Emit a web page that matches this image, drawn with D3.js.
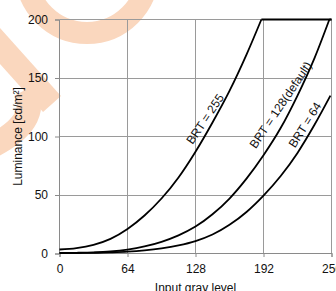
<!DOCTYPE html>
<html>
<head>
<meta charset="utf-8">
<script src="https://cdn.jsdelivr.net/npm/d3@7"></script>
<style>
  html, body { margin: 0; padding: 0; background: #fff; }
  svg { display: block; }
  text { font-family: "Liberation Sans", Arial, sans-serif; }
</style>
</head>
<body>
<svg id="chart" width="336" height="291"></svg>
<script>
// ---- data ----
const xTicks = [0, 64, 128, 192, 256];
const yTicks = [0, 50, 100, 150, 200];
const xTickLabels = ["0", "64", "128", "192", "256"];
const yTickLabels = ["0", "50", "100", "150", "200"];
const xTitle = "Input gray level";
const yTitle = "Luminance [cd/m²]";

const seriesNames = ["BRT = 255", "BRT = 128(default)", "BRT = 64"];

const brt255X = [0, 16, 32, 48, 64, 80, 96, 112, 128, 144, 160, 176, 190, 256];
const brt255Y = [3.4, 4.6, 7.4, 12.5, 21, 32.5, 47, 65, 87, 112, 139, 170, 200, 200];

const brt128X = [0, 16, 32, 48, 64, 80, 96, 112, 128, 144, 160, 176, 192, 208, 224, 240, 254, 256];
const brt128Y = [0.5, 0.6, 0.9, 1.7, 3.3, 6, 10, 15.5, 23, 33.5, 47, 64, 84, 107, 135, 167, 200, 200];

const brt64X = [0, 16, 32, 48, 64, 80, 96, 112, 128, 144, 160, 176, 192, 208, 224, 240, 255];
const brt64Y = [0.3, 0.4, 0.6, 1, 1.6, 2.7, 4.4, 6.9, 10.6, 16.2, 24.5, 35.5, 49.5, 66, 86, 110, 135];

// label anchor points (data coordinates) and angle
const labelX = [137, 208, 231];
const labelY = [115, 127, 110];
const labelAngle = [-56, -56, -58];

// ---- layout ----
const svg = d3.select("#chart");
const x = d3.scaleLinear().domain([0, 256]).range([59.5, 331.5]);
const y = d3.scaleLinear().domain([0, 200]).range([253.5, 19.5]);
const crisp = v => Math.round(v - 0.5) + 0.5;

// ---- watermark (background) ----
const wm = svg.append("g").attr("fill", "none").attr("stroke", "#FAD7BE");
wm.append("circle").attr("cx", 87).attr("cy", -28).attr("r", 61).attr("stroke-width", 22);
wm.append("path").attr("d", "M -25,18 L 52,104").attr("stroke-width", 24);
wm.append("path").attr("d", "M 25,90 Q 42,122 -12,148").attr("stroke-width", 24);

// ---- grid ----
const grid = svg.append("g").attr("stroke", "#9a9a9a").attr("stroke-width", 1);
grid.selectAll("line.v").data(xTicks).join("line")
  .attr("x1", d => crisp(x(d))).attr("x2", d => crisp(x(d)))
  .attr("y1", crisp(y(200))).attr("y2", crisp(y(0)));
grid.selectAll("line.h").data(yTicks).join("line")
  .attr("y1", d => crisp(y(d))).attr("y2", d => crisp(y(d)))
  .attr("x1", crisp(x(0))).attr("x2", crisp(x(256)));

// ---- axes ----
const xAxis = d3.axisBottom(x).tickValues(xTicks)
  .tickFormat((d, i) => xTickLabels[i]).tickSize(4).tickPadding(7);
const yAxis = d3.axisLeft(y).tickValues(yTicks)
  .tickFormat((d, i) => yTickLabels[i]).tickSize(4).tickPadding(7);

const gx = svg.append("g").attr("transform", `translate(0,${crisp(y(0)) - 0.5})`).call(xAxis);
const gy = svg.append("g").attr("transform", `translate(${crisp(x(0)) - 0.5},0)`).call(yAxis);
[gx, gy].forEach(g => {
  g.select(".domain").attr("stroke", "#8a8a8a");
  g.selectAll(".tick line").attr("stroke", "#8a8a8a");
  g.selectAll(".tick text").attr("fill", "#111").style("font-size", "12px")
    .style("font-family", "'Liberation Sans', Arial, sans-serif");
});

// ---- axis titles ----
svg.append("text").attr("x", 195.5).attr("y", 291.5)
  .attr("text-anchor", "middle").attr("font-size", 12).attr("fill", "#111")
  .text(xTitle);
svg.append("text")
  .attr("transform", `translate(22,${(y(0) + y(200)) / 2}) rotate(-90)`)
  .attr("text-anchor", "middle").attr("font-size", 12).attr("fill", "#111")
  .text(yTitle);

// ---- curves ----
const series = [
  { xs: brt255X, ys: brt255Y },
  { xs: brt128X, ys: brt128Y },
  { xs: brt64X, ys: brt64Y }
];
const smooth = d3.line().x(d => x(d[0])).y(d => y(d[1])).curve(d3.curveMonotoneX);
const straight = d3.line().x(d => x(d[0])).y(d => y(d[1]));
series.forEach(s => {
  const pts = s.xs.map((v, i) => [v, s.ys[i]]);
  let k = pts.findIndex(p => p[1] >= 200);
  if (k < 0) k = pts.length - 1;
  const rising = pts.slice(0, k + 1);
  const flat = pts.slice(k);
  svg.append("path").attr("d", smooth(rising))
    .attr("fill", "none").attr("stroke", "#000").attr("stroke-width", 1.8);
  if (flat.length > 1) {
    svg.append("path").attr("d", straight(flat))
      .attr("fill", "none").attr("stroke", "#000").attr("stroke-width", 1.8);
  }
});

// ---- curve labels ----
seriesNames.forEach((name, i) => {
  svg.append("text")
    .attr("transform", `translate(${x(labelX[i])},${y(labelY[i])}) rotate(${labelAngle[i]})`)
    .attr("text-anchor", "middle").attr("dy", "0.35em")
    .attr("font-size", 12).attr("fill", "#111")
    .text(name);
});
</script>
</body>
</html>
